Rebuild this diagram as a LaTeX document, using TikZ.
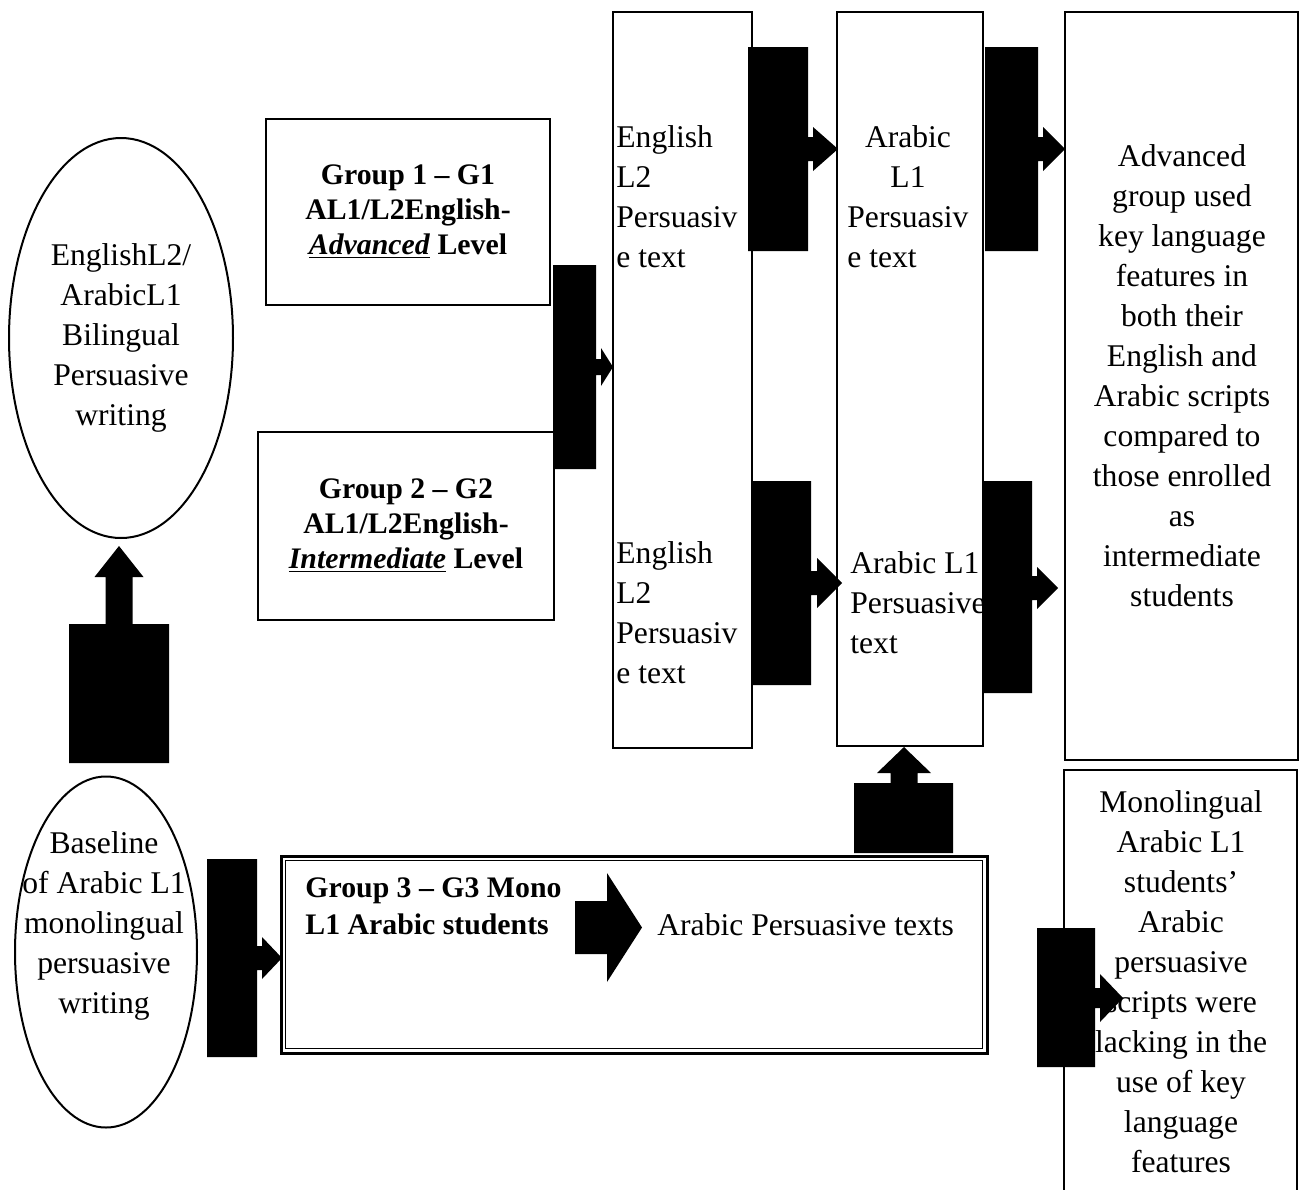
\documentclass[tikz,border=0pt]{standalone}
\usepackage{fontspec}
\setmainfont{Liberation Serif}
\usetikzlibrary{shapes.geometric}
\newcommand{\rcall}[9]{% x1 y1 x2 y2 headbase tip cy shafthalf headhalf
  \fill[black] (#1,#2) -- (#3,#2) -- (#3,#7-#8) -- (#5,#7-#8) -- (#5,#7-#9) -- (#6,#7) -- (#5,#7+#9) -- (#5,#7+#8) -- (#3,#7+#8) -- (#3,#4) -- (#1,#4) -- cycle;}
\newcommand{\ucall}[9]{% x1 ytop x2 ybot headbase tip cx shafthalf headhalf
  \fill[black] (#1,#4) -- (#1,#2) -- (#7-#8,#2) -- (#7-#8,#5) -- (#7-#9,#5) -- (#7,#6) -- (#7+#9,#5) -- (#7+#8,#5) -- (#7+#8,#2) -- (#3,#2) -- (#3,#4) -- cycle;}
\begin{document}
\begin{tikzpicture}[x=0.5pt,y=-0.5pt,
  box/.style={draw, line width=1pt, rectangle, inner sep=0pt},
  oval/.style={draw, line width=1pt, ellipse, inner sep=0pt},
  txt/.style={font=\fontsize{15.8}{20}\selectfont, inner sep=0pt, align=center},
  ltxt/.style={txt, align=left, anchor=west},
  btxt/.style={font=\fontsize{14.9}{17.5}\selectfont\bfseries, align=center}]
\useasboundingbox (0,0) rectangle (1301,1189);
\fill[white] (0,0) rectangle (1301,1189);

% ellipses
\node[oval, minimum width=112pt, minimum height=200pt] (e1) at (121,338) {};
\node[txt] (e1t) at (e1.center) {EnglishL2/\\ArabicL1\\Bilingual\\Persuasive\\writing};
\node[oval, minimum width=91pt, minimum height=175.5pt] (e2) at (106,952) {};
\node[txt] (e2t) at (104,926) {Baseline\\of Arabic L1\\monolingual\\persuasive\\writing};

% group boxes
\node[box, btxt, minimum width=142pt, minimum height=93pt] (g1) at (408,212)
  {Group 1 – G1\\AL1/L2English-\\\underline{\textit{Advanced}} Level};
\node[box, btxt, minimum width=148pt, minimum height=94pt] (g2) at (406,526)
  {Group 2 – G2\\AL1/L2English-\\\underline{\textit{Intermediate}} Level};

% columns
\node[box, minimum width=69.5pt, minimum height=368pt] (c1) at (682.5,380) {};
\node[box, minimum width=73pt, minimum height=367pt] (c2) at (910,379) {};
\node[box, minimum width=116.5pt, minimum height=374pt] (c3) at (1181.5,386) {};

\node[ltxt] (c1a) at (616,197) {English\\L2\\Persuasiv\\e text};
\node[ltxt] (c1b) at (616,613) {English\\L2\\Persuasiv\\e text};
\node[txt] (c2a) at (908,157) {Arabic\\L1};
\node[ltxt] (c2b) at (847,237) {Persuasiv\\e text};
\node[ltxt] (c2c) at (850,603) {Arabic L1\\Persuasive\\text};
\node[txt] (c3t) at (1182,376) {Advanced\\group used\\key language\\features in\\both their\\English and\\Arabic scripts\\compared to\\those enrolled\\as\\intermediate\\students};

% group 3 double box
\node[draw, line width=1.5pt, minimum width=353pt, minimum height=98.5pt, inner sep=0pt] (g3) at (634,954.5) {};
\node[draw, line width=0.6pt, minimum width=348.5pt, minimum height=94pt, inner sep=0pt] (g3i) at (g3.center) {};
\node[font=\fontsize{14.9}{18.5}\selectfont\bfseries, align=left, anchor=west, inner sep=0pt] (g3t) at (305,906) {Group 3 – G3 Mono\\L1 Arabic students};
\node[txt, anchor=west] (g3o) at (657,925) {Arabic Persuasive texts};

% monolingual box (open at bottom)
\coordinate (m1) at (1064,1200);
\coordinate (m2) at (1064,770);
\coordinate (m3) at (1297,770);
\coordinate (m4) at (1297,1200);
\draw[line width=1pt] (m1) -- (m2) -- (m3) -- (m4);
\node[txt] (mt) at (1181,982) {Monolingual\\Arabic L1\\students’\\Arabic\\persuasive\\scripts were\\lacking in the\\use of key\\language\\features};

% block arrows
\rcall{553}{265}{596}{469}{601}{613}{367}{8}{19}
\rcall{748}{47}{808}{251}{813}{838}{149}{12}{22}
\rcall{985}{47}{1038}{251}{1043}{1065}{149}{12}{22}
\rcall{752}{481}{811}{685}{817}{842}{583}{12}{25}
\rcall{982}{481}{1032}{693}{1037}{1058}{588}{12}{21}
\rcall{207}{859}{257}{1057}{262}{282}{958}{12}{21}
\rcall{1037}{928}{1095}{1067}{1100}{1123}{998}{10}{24}
\rcall{575}{901}{607}{954}{607}{642}{927.5}{26.5}{54.5}
\ucall{69}{624}{169}{763}{577}{546}{119}{13.5}{24.5}
\ucall{854}{783}{953}{853}{773}{747}{904}{13.5}{27}
\end{tikzpicture}
\end{document}
